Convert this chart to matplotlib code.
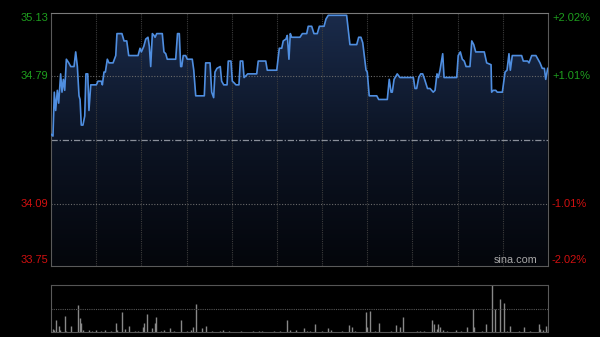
import numpy as np
import matplotlib.pyplot as plt
from matplotlib.colors import LinearSegmentedColormap

# 分时价格 (分钟, 价格)
minutes = [0, 1.3, 2.2, 3.1, 4.2, 5.1, 6.4, 7.3, 8.2, 9.1, 10.2, 11.8, 13.1, 15.3, 16.4, 17.5,
           18.6, 19.3, 20.1, 21.2, 22.4, 23.2, 24.4, 25.2, 26.4, 30.1, 31.2, 33.4, 34.1, 35.2,
           36.1, 37.4, 38.5, 41.2, 43.0, 43.8, 47.1, 48.5, 50.3, 51.6, 57.8, 59.1, 60.0, 61.6,
           62.9, 64.4, 65.3, 66.2, 67.3, 68.4, 69.1, 70.2, 73.9, 75.0, 76.2, 77.2, 82.8, 84.0,
           85.2, 86.1, 86.8, 87.8, 89.4, 90.5, 93.8, 94.8, 96.1, 101.8, 102.7, 105.6, 106.7,
           108.0, 108.9, 110.2, 112.4, 113.3, 114.7, 116.9, 117.7, 119.5, 120.4, 121.7, 122.8,
           124.8, 125.7, 127.3, 128.2, 129.5, 130.6, 136.6, 137.6, 142.6, 143.6, 149.9, 151.6,
           153.2, 154.2, 156.0, 156.9, 158.0, 158.9, 159.8, 165.3, 166.9, 169.8, 170.8, 173.1,
           174.6, 176.8, 178.2, 181.3, 182.6, 184.1, 196.3, 198.5, 203.0, 204.3, 205.8, 207.0,
           209.2, 210.0, 211.3, 216.3, 217.6, 223.3, 224.6, 225.8, 226.6, 227.8, 229.9, 231.7,
           240.6, 241.7, 242.8, 244.2, 245.5, 246.8, 248.1, 250.0, 251.7, 253.8, 255.0, 256.3,
           257.2, 258.3, 260.1, 261.0, 269.4, 270.4, 271.8, 273.1, 274.4, 275.6, 278.2, 279.4,
           280.7, 282.0, 287.7, 289.3, 292.2, 292.6, 293.7, 295.3, 296.3, 299.7, 301.5, 302.8,
           304.1, 305.0, 306.3, 312.5, 313.6, 316.5, 317.4, 319.2, 322.0, 324.7, 326.2, 327.6,
           328.5, 329.8]
prices = [34.47, 34.46, 34.70, 34.60, 34.71, 34.64, 34.80, 34.70, 34.77, 34.71, 34.88, 34.86,
          34.84, 34.84, 34.92, 34.84, 34.68, 34.66, 34.52, 34.52, 34.57, 34.80, 34.80, 34.60,
          34.74, 34.74, 34.76, 34.76, 34.74, 34.81, 34.81, 34.88, 34.86, 34.86, 34.90, 35.02,
          35.02, 34.98, 34.98, 34.90, 34.90, 34.94, 34.92, 34.95, 34.99, 35.00, 34.95, 34.84,
          35.02, 35.01, 35.00, 35.02, 35.02, 34.92, 34.91, 34.88, 34.88, 35.02, 35.02, 34.84,
          34.84, 34.90, 34.90, 34.88, 34.88, 34.82, 34.68, 34.68, 34.86, 34.86, 34.70, 34.67,
          34.81, 34.83, 34.84, 34.76, 34.74, 34.74, 34.87, 34.87, 34.76, 34.75, 34.74, 34.74,
          34.87, 34.87, 34.78, 34.79, 34.80, 34.80, 34.87, 34.87, 34.82, 34.82, 34.94, 34.94,
          34.98, 34.99, 35.01, 34.88, 35.02, 35.00, 35.00, 35.02, 35.02, 35.06, 35.06, 35.02,
          35.02, 35.06, 35.06, 35.10, 35.12, 35.12, 34.96, 34.96, 35.00, 35.00, 34.97, 34.82,
          34.81, 34.68, 34.68, 34.66, 34.66, 34.77, 34.70, 34.70, 34.77, 34.80, 34.78, 34.78,
          34.72, 34.72, 34.78, 34.80, 34.80, 34.77, 34.72, 34.72, 34.70, 34.71, 34.80, 34.78,
          34.82, 34.91, 34.78, 34.78, 34.90, 34.92, 34.88, 34.87, 34.84, 34.84, 34.98, 34.96,
          34.92, 34.92, 34.86, 34.85, 34.70, 34.71, 34.71, 34.70, 34.70, 34.81, 34.82, 34.91,
          34.82, 34.90, 34.90, 34.87, 34.87, 34.86, 34.90, 34.90, 34.86, 34.83, 34.83, 34.77,
          34.83]

# 成交量 (分钟, 千股)
vol_minutes = [1, 2, 3, 5, 6, 9, 10, 13, 18, 19, 20, 21, 25, 27, 30, 33, 36, 40, 43, 44, 47,
               49, 52, 56, 58, 61, 62, 64, 67, 69, 70, 73, 75, 79, 82, 86, 90, 93, 94, 96, 100,
               103, 107, 112, 114, 118, 122, 126, 130, 134, 138, 140, 145, 148, 150, 152, 157,
               159, 163, 168, 170, 172, 175, 178, 180, 184, 186, 190, 193, 198, 200, 202, 205,
               209, 210, 212, 215, 218, 221, 226, 229, 232, 234, 238, 243, 245, 248, 253, 254,
               256, 257, 258, 260, 263, 266, 269, 272, 276, 280, 281, 284, 286, 289, 293, 295,
               298, 301, 303, 305, 308, 311, 314, 318, 320, 324, 325, 327, 329, 330]
volumes = [8, 6, 26, 13, 5, 35, 4, 13, 58, 30, 19, 6, 6, 3, 5, 3, 6, 3, 19, 6, 44,
           8, 13, 3, 4, 12, 20, 39, 10, 20, 32, 3, 6, 10, 3, 27, 3, 6, 12, 60, 10,
           14, 3, 4, 6, 3, 2, 3, 2, 3, 4, 3, 2, 3, 2, 3, 27,
           5, 5, 10, 3, 3, 18, 2, 3, 10, 5, 2, 3, 15, 11, 3, 2,
           44, 12, 45, 3, 20, 2, 3, 15, 11, 32, 2, 3, 3, 3, 26, 18,
           8, 18, 11, 6, 3, 2, 6, 3, 11, 49, 11, 2, 3, 18, 100, 49,
           70, 63, 3, 13, 2, 3, 11, 3, 2, 18, 8, 6, 13, 8]

y_labels_left = ['35.13', '34.79', '34.09', '33.75']
y_values_left = [35.13, 34.79, 34.09, 33.75]
y_labels_right = ['+2.02%', '+1.01%', '-1.01%', '-2.02%']
prev_close = 34.44

green = '#1e9e1e'
red = '#d01010'
frame = '#5a5a5a'

fig = plt.figure(figsize=(6, 3.37), dpi=100, facecolor='black')
ax = fig.add_axes([0.085, 0.2107, 0.8283, 0.7493], facecolor='black')
axv = fig.add_axes([0.085, 0.0134, 0.8283, 0.141], facecolor='black')

ymin, ymax = 33.75, 35.13
ax.set_xlim(0, 330)
ax.set_ylim(ymin, ymax)

# 渐变填充
cmap = LinearSegmentedColormap.from_list('fill', ['#04060b', '#0c1424', '#1a2b4b'])
grad = np.linspace(0, 1, 256).reshape(-1, 1)
im = ax.imshow(grad, extent=[0, 330, ymin, ymax], origin='lower', aspect='auto',
               cmap=cmap, zorder=1)
poly = ax.fill_between(minutes, prices, ymin, color='none', lw=0)
im.set_clip_path(poly.get_paths()[0], transform=ax.transData)

ax.plot(minutes, prices, color='#4f8ee0', lw=1.2, zorder=3, solid_joinstyle='round')

# 网格
for m in range(30, 330, 30):
    ax.axvline(m, color='#3c3c3c', lw=0.8, ls=(0, (1, 1)), zorder=2)
for v in [34.79, 34.09]:
    ax.axhline(v, color='#6a6a6a', lw=0.8, ls=(0, (1, 1.5)), zorder=2)
ax.axhline(prev_close, color='#8a8f9a', lw=0.9, ls=(0, (5, 1.5, 1, 1.5)), zorder=2)

for s in ['left', 'bottom', 'right']:
    ax.spines[s].set_color(frame)
ax.spines['top'].set_color('#7a7a7a')
ax.set_xticks([])
ax.set_yticks([])

# 坐标标签
fs = 8
offs = [-0.022, 0, 0, 0.033]
for lab, val, o in zip(y_labels_left, y_values_left, offs):
    c = green if val > prev_close else red
    ax.text(-0.006, val + o, lab, color=c, fontsize=fs, ha='right', va='center',
            transform=ax.get_yaxis_transform(), family='Liberation Sans')
for lab, val, o in zip(y_labels_right, y_values_left, offs):
    c = green if val > prev_close else red
    ax.text(1.008, val + o, lab, color=c, fontsize=fs, ha='left', va='center',
            transform=ax.get_yaxis_transform(), family='Liberation Sans')

ax.text(0.978, 0.005, 'sina.com', color='#a8a8a8', fontsize=7.8, ha='right', va='bottom',
        transform=ax.transAxes, family='Liberation Sans')

# 成交量
axv.set_xlim(0, 330)
axv.set_ylim(0, max(volumes))
axv.vlines(vol_minutes, 0, volumes, color='#888888', lw=1.0)
axv.axhline(max(volumes) / 2, color='#555555', lw=0.8, ls=(0, (1, 1)))
axv.spines['top'].set_color('#555555')
axv.spines['top'].set_linestyle((0, (1, 1)))
axv.spines['bottom'].set_color('#555555')
axv.spines['bottom'].set_linestyle((0, (1, 1)))
axv.spines['left'].set_color(frame)
axv.spines['right'].set_color(frame)
axv.set_xticks([])
axv.set_yticks([])

fig.savefig('out.png', dpi=100, facecolor='black')
